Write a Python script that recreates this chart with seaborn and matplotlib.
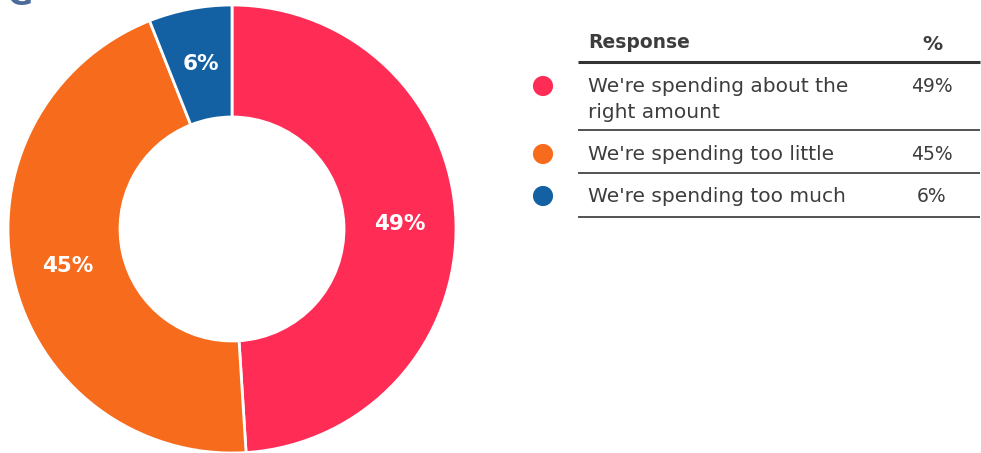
import matplotlib
matplotlib.use("Agg")
import matplotlib.pyplot as plt
import seaborn as sns
import pandas as pd
import numpy as np

# Survey responses and their shares
responses = ["We're spending about the\nright amount", "We're spending too little", "We're spending too much"]
shares = [49, 45, 6]
share_labels = ["49%", "45%", "6%"]
colors = ["#FF2D55", "#F76B1C", "#1360A3"]

sns.set_theme(style="white")
plt.rcParams["font.family"] = ["DejaVu Sans"]

W, H = 981, 453
fig = plt.figure(figsize=(W / 100, H / 100), dpi=100)

# Donut chart: centre (232, 229) px, radius 224 px
cx, cy, r = 232, 229, 224
ax = fig.add_axes([(cx - r) / W, (H - cy - r) / H, 2 * r / W, 2 * r / H])
inner = 0.5
wedges, _ = ax.pie(shares, colors=colors, startangle=90, counterclock=False,
                   radius=1, wedgeprops=dict(width=1 - inner, edgecolor="white", linewidth=2))
ax.set_xlim(-1, 1)
ax.set_ylim(-1, 1)
ax.set_aspect("equal")
ax.axis("off")

label_r = 0.75
for w, lab in zip(wedges, share_labels):
    ang = np.deg2rad((w.theta1 + w.theta2) / 2)
    ax.text(label_r * np.cos(ang), label_r * np.sin(ang), lab, ha="center", va="center",
            color="white", fontsize=15.5, fontweight="bold")

# Table overlay in pixel coordinates
tx = fig.add_axes([0, 0, 1, 1], facecolor="none")

text_color = "#3d3d3d"
dot_y = [86, 154, 196]
text_y = [87, 155, 197]
sep_y = [130, 173, 217]

df = pd.DataFrame({"x": [543] * 3, "y": dot_y, "resp": responses})
sns.scatterplot(data=df, x="x", y="y", hue="resp", palette=colors, s=210,
                edgecolor="none", legend=False, ax=tx)
tx.set_xlim(0, W)
tx.set_ylim(H, 0)
tx.axis("off")

tx.text(588, 42, "Response", fontsize=13.5, fontweight="bold", color=text_color, va="center", ha="left")
tx.text(932, 45, "%", fontsize=14.5, fontweight="bold", color=text_color, va="center", ha="center")
tx.plot([578, 980], [62, 62], color="#333333", lw=2.2, solid_capstyle="butt")

for resp, lab, ty, sy in zip(responses, share_labels, text_y, sep_y):
    tx.text(588, ty - 9.5, resp, fontsize=14.5, color=text_color, va="top", ha="left",
            linespacing=1.4)
    tx.text(932, ty, lab, fontsize=13.5, color=text_color, va="center", ha="center")
    tx.plot([578, 980], [sy, sy], color="#444444", lw=1.3, solid_capstyle="butt")

# Clipped heading glyph at the top-left edge
tx.text(20, 5, "G", fontsize=22, fontweight="bold", color="#4d6b99", ha="center", va="baseline")

fig.savefig("out.png", dpi=100)
